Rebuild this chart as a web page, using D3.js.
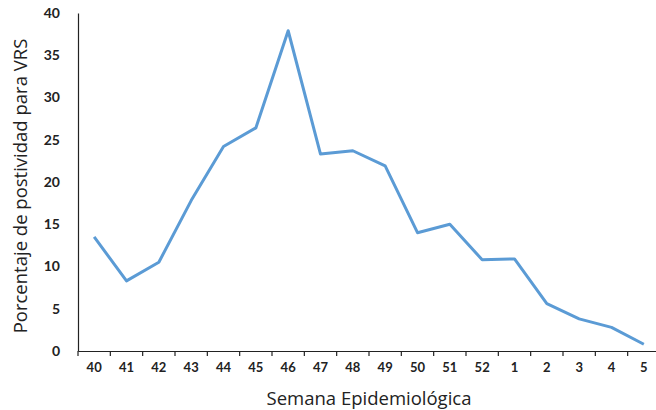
<!DOCTYPE html>
<html><head><meta charset="utf-8">
<script src="https://cdn.jsdelivr.net/npm/d3@7"></script>
<style>body{margin:0;background:#fff}</style>
</head><body>
<svg id="c" width="656" height="410"></svg>
<script>
const weeks = ["40","41","42","43","44","45","46","47","48","49","50","51","52","1","2","3","4","5"];
const positivity = [13.5,8.3,10.5,17.8,24.2,26.4,37.9,23.3,23.7,21.9,14.0,15.0,10.8,10.9,5.6,3.8,2.8,0.8];
const yTicks = [0,5,10,15,20,25,30,35,40];

const svg = d3.select("#c");
const x = d3.scaleBand().domain(weeks).range([78, 660]);
const y = d3.scaleLinear().domain([0,40]).range([351, 13]);

// y axis
const ya = svg.append("g").attr("transform","translate(78,0)")
  .call(d3.axisLeft(y).tickValues(yTicks).tickSize(0).tickPadding(18));
ya.select(".domain").attr("stroke","#222").attr("stroke-width",1.2);
ya.selectAll("text").attr("font-family","Lato, 'Open Sans', sans-serif").attr("font-weight","bold")
  .attr("font-size","14px").attr("fill","#222");

// x axis
const xa = svg.append("g").attr("transform","translate(0,351)")
  .call(d3.axisBottom(x).tickSize(0).tickPadding(12));
xa.select(".domain").attr("stroke","#222").attr("stroke-width",1.2);
xa.selectAll("text").attr("font-family","Lato, 'Open Sans', sans-serif").attr("font-weight","bold")
  .attr("font-size","13px").attr("fill","#222");
// tick marks at band boundaries
const bounds = weeks.map(w => x(w));
xa.selectAll("line.bt").data(bounds).enter().append("line").attr("class","bt")
  .attr("x1",d=>d).attr("x2",d=>d).attr("y1",0).attr("y2",5)
  .attr("stroke","#222").attr("stroke-width",1.2);

// line
const line = d3.line().x((d,i)=>x(weeks[i])+x.bandwidth()/2).y(d=>y(d));
svg.append("path").datum(positivity).attr("d",line)
  .attr("fill","none").attr("stroke","#5B9BD5").attr("stroke-width",3).attr("stroke-linejoin","round");

// titles
svg.append("text").attr("x",369).attr("y",405).attr("text-anchor","middle")
  .attr("font-family","'Open Sans', sans-serif").attr("font-size","18.5px").attr("fill","#222")
  .text("Semana Epidemiológica");
svg.append("text").attr("transform","translate(27,186) rotate(-90)").attr("text-anchor","middle")
  .attr("font-family","'Open Sans', sans-serif").attr("font-size","18.5px").attr("fill","#222")
  .text("Porcentaje de postividad para VRS");
</script>
</body></html>
